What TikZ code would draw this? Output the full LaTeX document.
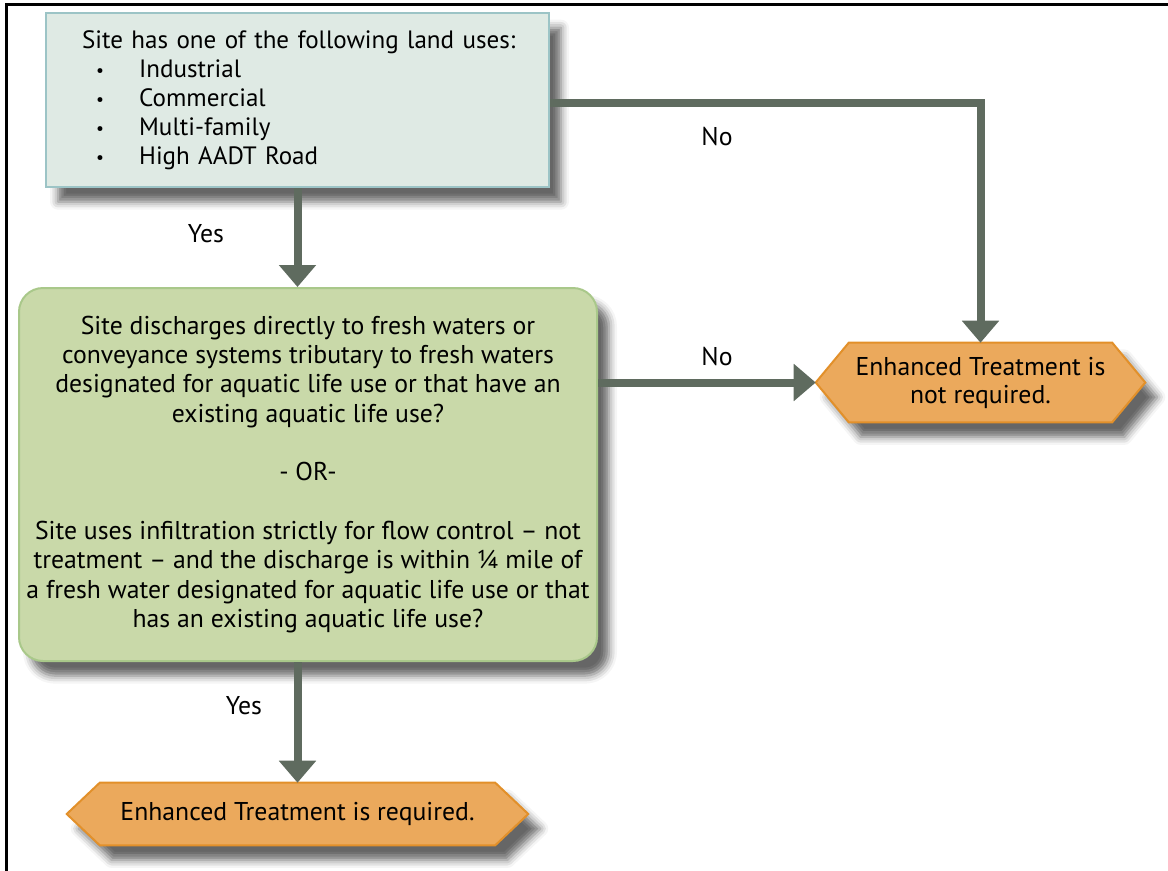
\documentclass[tikz,border=0pt]{standalone}
\usepackage{fontspec}
\setmainfont{PT Sans}
\usetikzlibrary{arrows.meta,shadows.blur}
\definecolor{arrowc}{HTML}{5F6B5F}
\definecolor{boxafill}{HTML}{DFEAE4}
\definecolor{boxadraw}{HTML}{9CC4C6}
\definecolor{boxbfill}{HTML}{C9D9A9}
\definecolor{boxbdraw}{HTML}{A9C88A}
\definecolor{hexfill}{HTML}{EBA95C}
\definecolor{hexdraw}{HTML}{E2902A}
\tikzset{
  txt/.style={font=\fontsize{19.3}{22}\selectfont, text=black},
  txta/.style={font=\fontsize{18.8}{21.75}\selectfont, text=black},
  shad/.style={blur shadow={shadow xshift=9pt, shadow yshift=-11pt, shadow blur radius=6pt, shadow opacity=60}},
  arr/.style={draw=arrowc, line width=6pt, -{Triangle[length=16.5pt,width=27pt]}},
  hexbox/.style={rectangle, inner sep=0pt, txt, align=center},
  lbl/.style={txt, inner sep=0pt},
}
\newcommand{\blt}{\hspace*{10.5pt}\makebox[32.25pt][l]{\raisebox{0.1ex}{\scalebox{0.7}{•}}}}
\begin{document}
\begin{tikzpicture}[x=0.75pt,y=-0.75pt]
\useasboundingbox (0,0) rectangle (1168,871);
% frame
\draw[line width=1.9pt] (5,4.5) -- (1168,4.5);
\draw[line width=1.9pt] (6.5,4.5) -- (6.5,871);
% box 1
\node[shad, draw=boxadraw, fill=boxafill, line width=1.5pt, rectangle,
      minimum width=377.25pt, minimum height=130.5pt, inner sep=0pt,
      txta, text width=323pt, align=left] (box1) at (297.5,100)
  {\makebox[0pt][l]{Site has one of the following land uses:}\\
   \blt Industrial\\
   \blt Commercial\\
   \blt Multi-family\\
   \blt High AADT Road};
% box 2
\node[shad, draw=boxbdraw, fill=boxbfill, line width=1.5pt, rectangle, rounded corners=18pt,
      minimum width=433.5pt, minimum height=279.75pt, inner sep=0pt,
      txt, align=center] (box2) at (308,474.5)
  {Site discharges directly to fresh waters or\\
   conveyance systems tributary to fresh waters\\
   designated for aquatic life use or that have an\\
   existing aquatic life use?\\[22pt]
   - OR-\\[22pt]
   Site uses infiltration strictly for flow control – not\\
   treatment – and the discharge is within ¼ mile of\\
   a fresh water designated for aquatic life use or that\\
   has an existing aquatic life use?};
% hexagon 1
\node[hexbox, minimum width=246.75pt, minimum height=59.25pt] (hex1) at (980.5,382.5) {};
\path[shad, draw=hexdraw, fill=hexfill, line width=1.5pt]
  (hex1.west) -- ([xshift=24.75pt]hex1.north west) -- ([xshift=-24.75pt]hex1.north east)
  -- (hex1.east) -- ([xshift=-24.75pt]hex1.south east) -- ([xshift=24.75pt]hex1.south west) -- cycle;
\node[hexbox, font=\fontsize{19.3}{21}\selectfont] (hex1t) at (hex1.center) {Enhanced Treatment is\\not required.};
% hexagon 2
\node[hexbox, minimum width=345.75pt, minimum height=46.5pt] (hex2) at (297.5,814) {};
\path[shad, draw=hexdraw, fill=hexfill, line width=1.5pt]
  (hex2.west) -- ([xshift=24.75pt]hex2.north west) -- ([xshift=-24.75pt]hex2.north east)
  -- (hex2.east) -- ([xshift=-24.75pt]hex2.south east) -- ([xshift=24.75pt]hex2.south west) -- cycle;
\node[hexbox] (hex2t) at (hex2.center) {Enhanced Treatment is required.};
% connectors
\draw[arr] (box1.south) -- (box1.south |- box2.north);
\draw[arr] ([yshift=-2.25pt]box1.east) -| (hex1.north);
\draw[arr] (box2.east |- hex1.west) -- (hex1.west);
\draw[arr] (hex2.north |- box2.south) -- (hex2.north);
% labels
\node[lbl] (yes1) at (206,234) {Yes};
\node[lbl] (no1) at (717,137) {No};
\node[lbl] (no2) at (717,357) {No};
\node[lbl] (yes2) at (244,706) {Yes};
\end{tikzpicture}
\end{document}
